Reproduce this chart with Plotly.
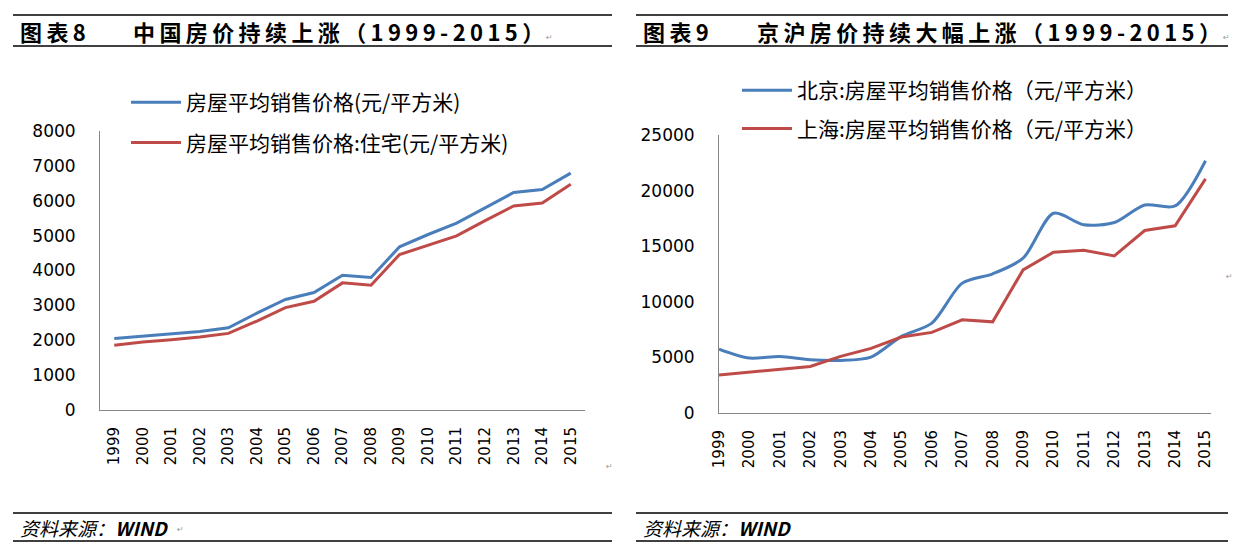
import plotly.graph_objects as go

# page body has an 8px margin; the figure is sized so that it fills the window
OFF = 8
W, H = 1243 - OFF, 554 - OFF

years = list(range(1999, 2016))
year_labels = [str(y) for y in years]

# 图表8: 全国
china_all = [2053, 2112, 2170, 2250, 2359, 2778, 3168, 3367, 3864, 3800,
             4681, 5032, 5357, 5791, 6237, 6324, 6793]
china_res = [1857, 1948, 2017, 2092, 2197, 2549, 2937, 3119, 3645, 3576,
             4459, 4725, 4993, 5430, 5850, 5933, 6473]

# 图表9: 北京 / 上海
beijing = [5750, 4940, 5090, 4790, 4730, 5030, 6890, 8080, 11680, 12515,
           13920, 17960, 16920, 17130, 18710, 18620, 22690]
shanghai = [3413, 3650, 3890, 4190, 5090, 5810, 6830, 7250, 8380, 8200,
            12870, 14460, 14640, 14130, 16410, 16830, 21050]

left_ticks = [0, 1000, 2000, 3000, 4000, 5000, 6000, 7000, 8000]
right_ticks = [0, 5000, 10000, 15000, 20000, 25000]

names_left = ["房屋平均销售价格(元/平方米)", "房屋平均销售价格:住宅(元/平方米)"]
names_right = ["北京:房屋平均销售价格（元/平方米）", "上海:房屋平均销售价格（元/平方米）"]

BLUE = "#4a7ebb"
RED = "#be4b48"
AXIS = "#868686"
CJK = "Noto Sans CJK SC"


def px(x):
    return (x - OFF) / W


def py(y):
    return 1 - (y - OFF) / H


fig = go.Figure()
fig.add_trace(go.Scatter(x=years, y=china_all, name=names_left[0], mode="lines",
                         line=dict(color=BLUE, width=3), xaxis="x", yaxis="y",
                         legend="legend", legendgroup="a"))
fig.add_trace(go.Scatter(x=years, y=china_res, name=names_left[1], mode="lines",
                         line=dict(color=RED, width=3), xaxis="x", yaxis="y",
                         legend="legend", legendgroup="b"))
fig.add_trace(go.Scatter(x=years, y=beijing, name=names_right[0], mode="lines",
                         line=dict(color=BLUE, width=3, shape="spline", smoothing=0.8),
                         xaxis="x2", yaxis="y2", legend="legend2", legendgroup="c"))
fig.add_trace(go.Scatter(x=years, y=shanghai, name=names_right[1], mode="lines",
                         line=dict(color=RED, width=3), xaxis="x2", yaxis="y2",
                         legend="legend2", legendgroup="d"))

xcommon = dict(tickmode="array", tickvals=years, ticktext=year_labels, tickangle=-90,
               showline=True, linecolor=AXIS, linewidth=1, showgrid=False, zeroline=False,
               ticks="", tickfont=dict(family="DejaVu Sans", size=15, color="#000"),
               ticklabelstandoff=10, fixedrange=True, automargin=False)
ycommon = dict(showline=True, linecolor=AXIS, linewidth=1, showgrid=False, zeroline=False,
               ticks="", tickfont=dict(family="DejaVu Sans", size=17, color="#000"),
               ticklabelstandoff=20, fixedrange=True, tickformat="d", automargin=False)

fig.update_layout(
    width=W, height=H, autosize=False,
    margin=dict(l=0, r=0, t=0, b=0, pad=0, autoexpand=False),
    paper_bgcolor="white", plot_bgcolor="white",
    xaxis=dict(domain=[px(100), px(585)], range=[1998.5, 2015.5], anchor="y", **xcommon),
    yaxis=dict(domain=[py(410), py(131)], range=[0, 8000], tickvals=left_ticks,
               anchor="x", **ycommon),
    xaxis2=dict(domain=[px(719), px(1211)], range=[1999, 2015.18], anchor="y2", **xcommon),
    yaxis2=dict(domain=[py(413), py(135)], range=[0, 25000], tickvals=right_ticks,
                anchor="x2", **ycommon),
    legend=dict(x=px(126), y=py(82), xanchor="left", yanchor="top",
                bgcolor="rgba(0,0,0,0)", font=dict(family=CJK, size=21, color="#000"),
                traceorder="grouped", tracegroupgap=10, itemwidth=50),
    legend2=dict(x=px(737), y=py(70), xanchor="left", yanchor="top",
                 bgcolor="rgba(0,0,0,0)", font=dict(family=CJK, size=21, color="#000"),
                 traceorder="grouped", tracegroupgap=8, itemwidth=50),
    showlegend=True,
)

shapes = []
for (x0, x1) in [(13, 612), (636, 1228)]:
    for yy in [15, 46, 513, 541]:
        shapes.append(dict(type="line", xref="paper", yref="paper",
                           x0=px(x0), x1=px(x1), y0=py(yy), y1=py(yy),
                           line=dict(color="#000", width=1.5)))
fig.update_layout(shapes=shapes)

thin = "\u2009"


def spaced(s):
    return thin.join(list(s))


annos = [
    dict(text=spaced("图表8"), x=px(18), y=py(31)),
    dict(text=spaced("中国房价持续上涨（1999-2015）"), x=px(131), y=py(31)),
    dict(text=spaced("图表9"), x=px(641), y=py(31)),
    dict(text=spaced("京沪房价持续大幅上涨（1999-2015）"), x=px(755), y=py(31)),
]
out = []
for a in annos:
    out.append(dict(text=a["text"], x=a["x"], y=a["y"], xref="paper", yref="paper",
                    xanchor="left", yanchor="middle", showarrow=False,
                    font=dict(family=CJK, size=22, color="#000", weight="bold")))
for xx in [18, 641]:
    out.append(dict(text="资料来源：<b>WIND</b>", x=px(xx), y=py(527), xref="paper", yref="paper",
                    xanchor="left", yanchor="middle", showarrow=False,
                    font=dict(family=CJK, size=19, color="#000", style="italic")))
for (xx, yy) in [(549, 37), (1226, 37), (609, 466), (1229, 276), (180, 529)]:
    out.append(dict(text="↵", x=px(xx), y=py(yy), xref="paper", yref="paper",
                    xanchor="center", yanchor="middle", showarrow=False,
                    font=dict(family="DejaVu Sans", size=8, color="#999")))
fig.update_layout(annotations=out)

fig.write_html("out.html")
